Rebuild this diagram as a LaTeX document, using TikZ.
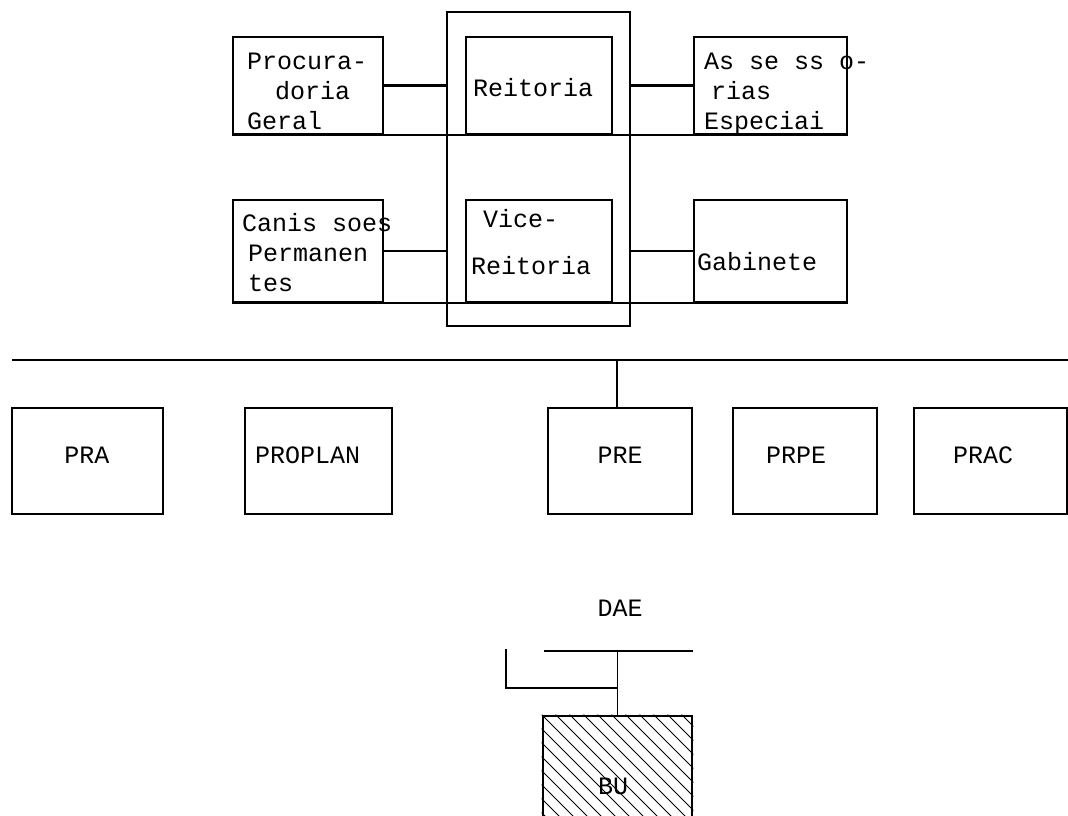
\documentclass[tikz,border=0pt]{standalone}
\usepackage{fontspec}
\newfontfamily\orgfont{Liberation Mono}
\usetikzlibrary{positioning}

\begin{document}
\begin{tikzpicture}[
    x=1pt, y=-1pt,
    every node/.style={inner sep=0pt},
    box/.style={draw, line width=2.2pt},
    sidebox/.style={box, minimum width=150pt, minimum height=#1},
    probox/.style={box, minimum height=106pt, minimum width=#1},
    tag/.style={font=\orgfont\fontsize{25}{30}\selectfont, align=left, anchor=base west},
    link/.style={line width=2.2pt},
    pen/.style={line width=1.4pt}
]
\useasboundingbox (0,0) rectangle (1068,816);

% Reitoria frame and its units
\node[box, minimum width=183pt, minimum height=314pt] (frame) at (538.5,169) {};
\node[sidebox=97pt, minimum width=146pt] (reit) at (539,85.5) {};
\node[sidebox=102pt, minimum width=146pt] (vice) at (539,251) {};
\node[sidebox=97pt] (proc) at (308,85.5) {};
\node[sidebox=97pt, minimum width=153pt] (ass) at (770.5,85.5) {};
\node[sidebox=102pt] (com) at (308,251) {};
\node[sidebox=102pt, minimum width=153pt] (gab) at (770.5,251) {};

% multi-line texts sit on their last line
\node[tag] (t-proc) at (247,129) {Procura-\\\hspace*{28pt}doria\\Geral};
\node[tag] (t-reit) at (473,96) {Reitoria};
\node[tag] (t-ass) at (704,129) {As se ss o-\\\hspace*{7pt}rias\\Especiai};
\node[tag] (t-com) at (242,291) {Canis soes\\\hspace*{6pt}Permanen\\\hspace*{6pt}tes};
\node[tag] (t-vice) at (483,274) {Vice-\\[17pt]\hspace*{-12pt}Reitoria};
\node[tag] (t-gab) at (697,270) {Gabinete};

\draw[link] (proc.east) -- (proc.east -| frame.west);
\draw[link] (frame.east |- ass.west) -- (ass.west);
\draw[link] (com.east) -- (com.east -| frame.west);
\draw[link] (frame.east |- gab.west) -- (gab.west);
\draw[link] (proc.south west) -- (ass.south east);
\draw[link] (com.south west) -- (gab.south east);

% pro-reitorias
\coordinate (busW) at (12,360);
\coordinate (busE) at (1068,360);
\draw[link] (busW) -- (busE);

\node[probox=151pt] (pra) at (87.5,461) {};
\node[probox=147pt] (proplan) at (318.5,461) {};
\node[probox=144pt] (pre) at (620,461) {};
\node[probox=144pt] (prpe) at (805,461) {};
\node[probox=153pt] (prac) at (990.5,461) {};

\node[tag, anchor=base] (t-pra) at (87,463) {PRA};
\node[tag] (t-proplan) at (255,463) {PROPLAN};
\node[tag, anchor=base] (t-pre) at (620,463) {PRE};
\node[tag, anchor=base] (t-prpe) at (796,463) {PRPE};
\node[tag, anchor=base] (t-prac) at (983,463) {PRAC};

\draw[link] ([xshift=-3pt]pre.north) -- ([xshift=-3pt]pre.north |- busW);

% DAE and BU
\node[tag, anchor=base] (dae) at (620,616) {DAE};
\coordinate (daeW) at (544,651);
\coordinate (daeE) at (693,651);
\coordinate (tail) at (506,649);
\node[box, line width=2.8pt, minimum width=149pt, minimum height=116pt] (bu) at (617.5,774) {};
\begin{scope}
    \clip (bu.south west) rectangle (bu.north east);
    \foreach \k in {0,...,22}
        \draw[line width=1pt] ([xshift=\k*14pt-126pt]bu.north west) -- ++(130,130);
\end{scope}
\node[tag, anchor=base] (t-bu) at (613,794) {BU};

\draw[pen] (daeW) -- (daeE);
\draw[pen] (bu.north) -- (bu.north |- daeW);
\coordinate (tailend) at (bu.north |- 0,688);
\draw[pen] (tail) |- (tailend);
\end{tikzpicture}
\end{document}
